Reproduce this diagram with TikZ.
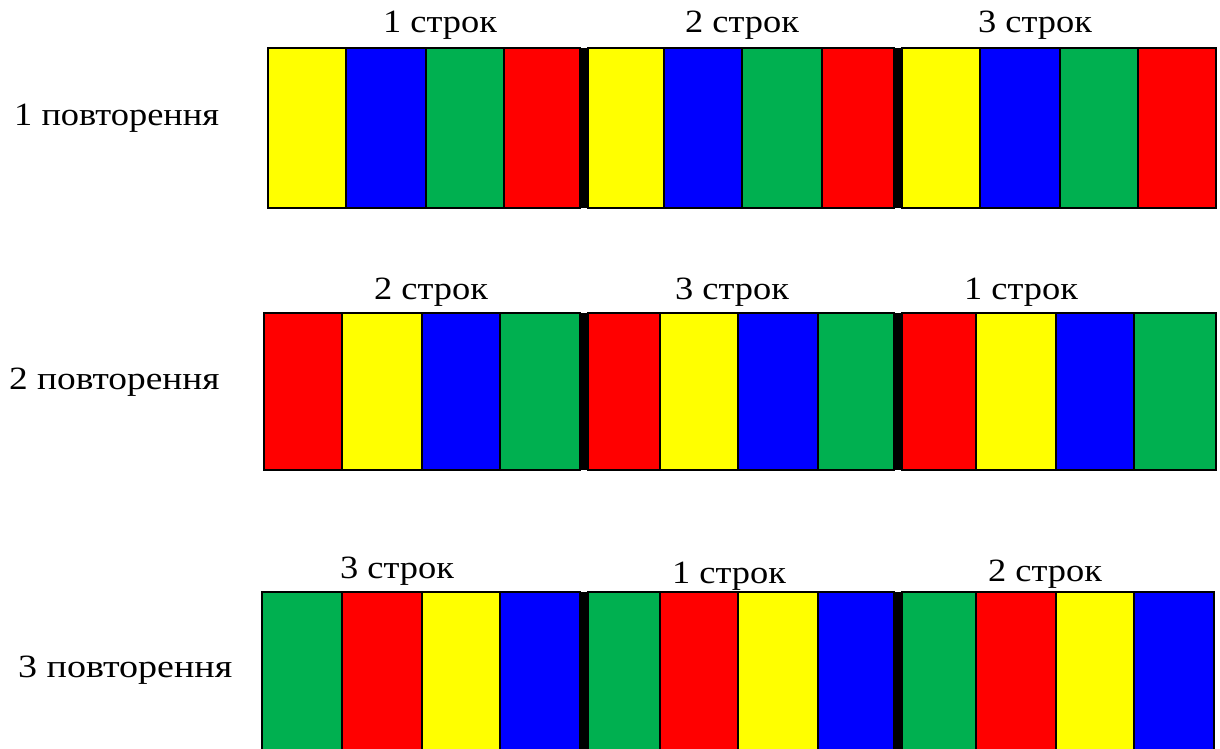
\documentclass[tikz,border=0pt]{standalone}
\usepackage{graphicx}
\usepackage{fontspec}
\setmainfont{Liberation Serif}
\definecolor{cyel}{HTML}{FFFF00}
\definecolor{cblu}{HTML}{0000FF}
\definecolor{cgrn}{HTML}{00B050}
\definecolor{cred}{HTML}{FF0000}
% text set slightly wide
\newcommand\widetxt[2][1.12]{\scalebox{#1}[1]{#2}}
\tikzset{
  stripe/.style={draw=black, line width=1.2},
  sep/.style={fill=black},
  lbl/.style={font=\fontsize{32.5}{39}\selectfont, inner sep=0pt, anchor=base},
  rowlbl/.style={font=\fontsize{32.5}{39}\selectfont, inner sep=0pt, anchor=base west},
}
\begin{document}
\begin{tikzpicture}[x=1pt,y=-1pt]
\clip (0,0) rectangle (1220,749);
\fill[white] (0,0) rectangle (1220,749);

% first repetition
\foreach \a/\b/\c in {268/346/cyel,346/426/cblu,426/504/cgrn,504/580/cred,
                      588/664/cyel,664/742/cblu,742/822/cgrn,822/894/cred,
                      902/980/cyel,980/1060/cblu,1060/1138/cgrn,1138/1216/cred}
  \filldraw[stripe, fill=\c] (\a,48) rectangle (\b,208);
\fill[sep] (580,48) rectangle (588,208);
\fill[sep] (894,48) rectangle (902,208);

% second repetition
\foreach \a/\b/\c in {264/342/cred,342/422/cyel,422/500/cblu,500/580/cgrn,
                      588/660/cred,660/738/cyel,738/818/cblu,818/894/cgrn,
                      902/976/cred,976/1056/cyel,1056/1134/cblu,1134/1216/cgrn}
  \filldraw[stripe, fill=\c] (\a,313) rectangle (\b,470);
\fill[sep] (580,313) rectangle (588,470);
\fill[sep] (894,313) rectangle (902,470);

% third repetition
\foreach \a/\b/\c in {262/342/cgrn,342/422/cred,422/500/cyel,500/580/cblu,
                      588/660/cgrn,660/738/cred,738/818/cyel,818/894/cblu,
                      902/976/cgrn,976/1056/cred,1056/1134/cyel,1134/1214/cblu}
  \filldraw[stripe, fill=\c] (\a,592) rectangle (\b,770);
\fill[sep] (580,592) rectangle (588,770);
\fill[sep] (894,592) rectangle (902,770);

% row labels
\node[rowlbl] (r1) at (14,125) {\widetxt{1 повторення}};
\node[rowlbl] (r2) at (9,389) {\widetxt[1.15]{2 повторення}};
\node[rowlbl] (r3) at (18,677) {\widetxt[1.17]{3 повторення}};

% group labels
\node[lbl] (a1) at (440,33) {\widetxt{1 строк}};
\node[lbl] (a2) at (742,33) {\widetxt{2 строк}};
\node[lbl] (a3) at (1035,33) {\widetxt{3 строк}};
\node[lbl] (b2) at (431,299) {\widetxt{2 строк}};
\node[lbl] (b3) at (732,299) {\widetxt{3 строк}};
\node[lbl] (b1) at (1021,299) {\widetxt{1 строк}};
\node[lbl] (c3) at (397,578) {\widetxt{3 строк}};
\node[lbl] (c1) at (729,583) {\widetxt{1 строк}};
\node[lbl] (c2) at (1045,581) {\widetxt{2 строк}};
\end{tikzpicture}
\end{document}
